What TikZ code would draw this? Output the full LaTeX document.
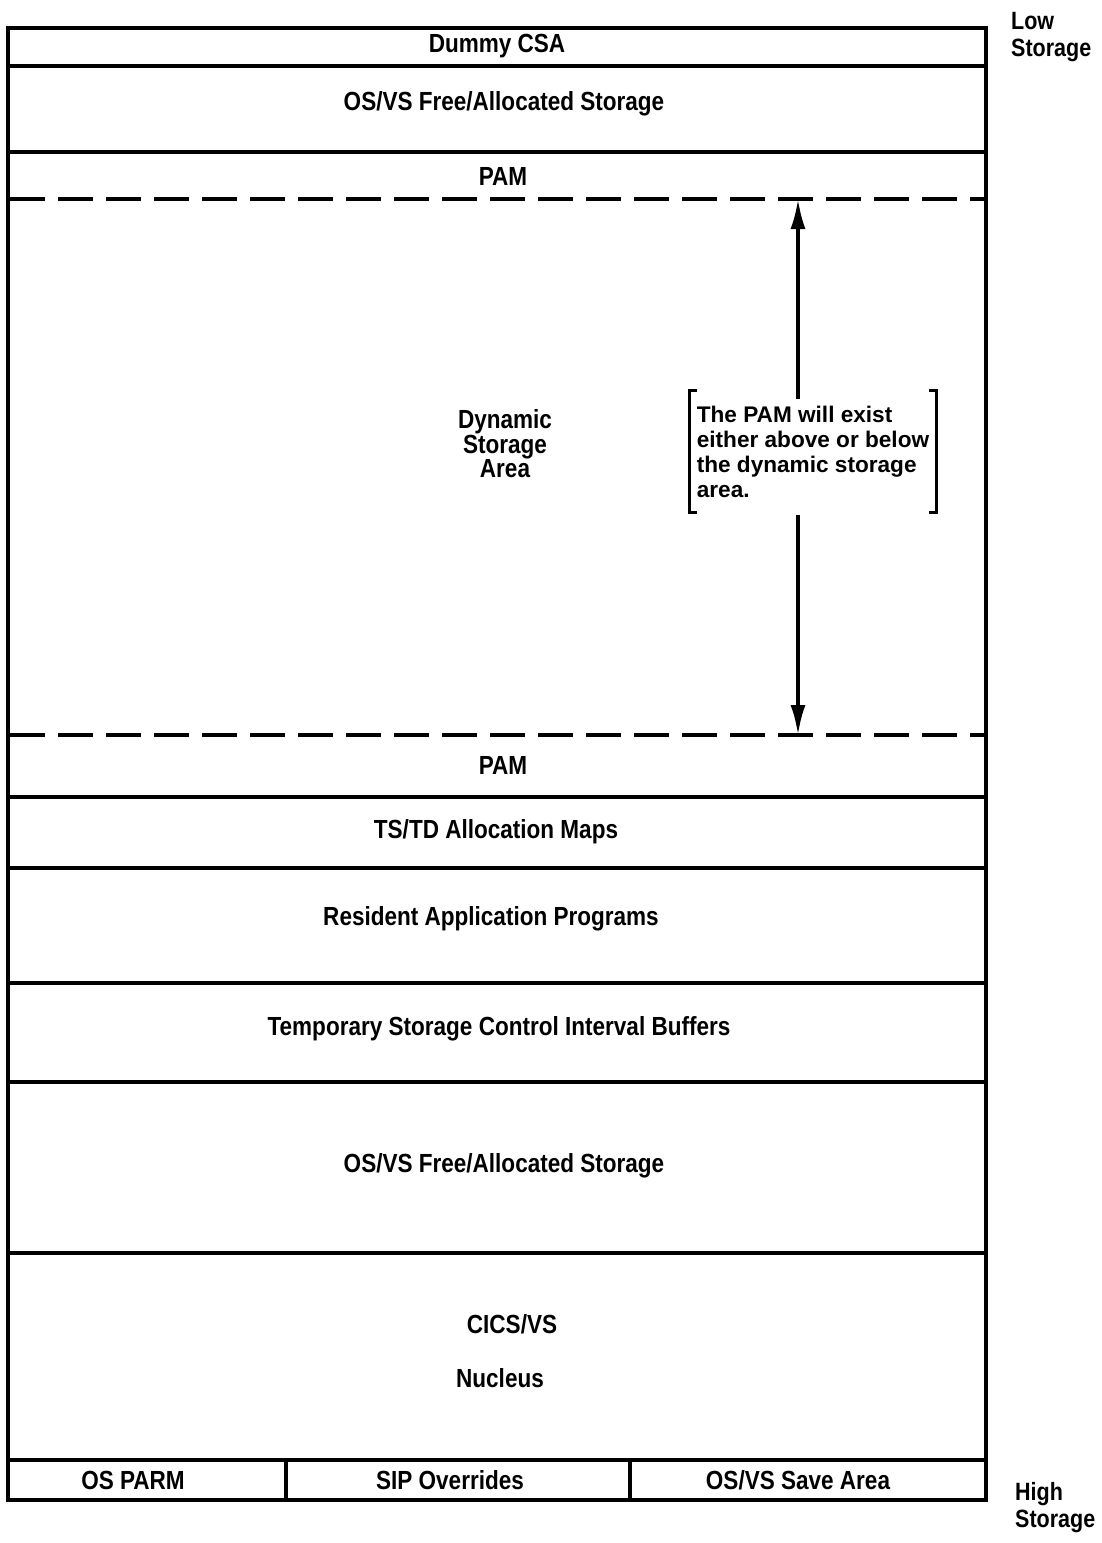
\documentclass[tikz,border=0pt]{standalone}
\usepackage{fontspec}
\setmainfont{Liberation Sans}[FakeStretch=0.86]
\newfontfamily\notefont{Liberation Sans}
\usetikzlibrary{arrows.meta}
\begin{document}
\begin{tikzpicture}[x=1pt,y=-1pt,
  lbl/.style={font=\bfseries\fontsize{26.2}{24.5}\selectfont, inner sep=0pt},
  sidelbl/.style={font=\bfseries\fontsize{25}{27}\selectfont, inner sep=0pt, align=left, anchor=west},
  rule/.style={line width=3.2pt},
  dashrule/.style={line width=3.4pt, dash pattern=on 35pt off 13pt},
  notebox/.style={minimum width=247pt, minimum height=121pt, inner sep=0pt,
     align=left, font=\notefont\bfseries\fontsize{22.6}{25}\selectfont},
  bracket/.style={line width=3pt},
  arr/.style={line width=3.4pt, -{Latex[length=30pt,width=15pt]}}
]
\useasboundingbox (0,0) rectangle (1102,1543);
% outer frame and separators
\draw[rule] (8,28) rectangle (986,1500);
\draw[rule] (8,66) -- (986,66);
\draw[rule] (8,152) -- (986,152);
\draw[dashrule] (10,199) -- (986,199);
\draw[dashrule] (10,735) -- (986,735);
\draw[rule] (8,797) -- (986,797);
\draw[rule] (8,868) -- (986,868);
\draw[rule] (8,983) -- (986,983);
\draw[rule] (8,1082) -- (986,1082);
\draw[rule] (8,1253) -- (986,1253);
\draw[rule] (8,1460) -- (986,1460);
\draw[rule] (286,1460) -- (286,1500);
\draw[rule] (630,1460) -- (630,1500);
% labels
\node[lbl] (dummy) at (497,46) {Dummy CSA};
\node[lbl] (osvs1) at (504,104) {OS/VS Free/Allocated Storage};
\node[lbl] (pam1) at (503,176) {PAM};
\node[lbl, align=center] (dyn) at (505,444) {Dynamic\\Storage\\Area};
\node[lbl] (pam2) at (503,765) {PAM};
\node[lbl] (tstd) at (496,832) {TS/TD Allocation Maps};
\node[lbl] (resident) at (491,919) {Resident Application Programs};
\node[lbl] (temp) at (499,1029) {Temporary Storage Control Interval Buffers};
\node[lbl] (osvs2) at (504,1166) {OS/VS Free/Allocated Storage};
\node[lbl] (cics) at (512,1324) {CICS/VS};
\node[lbl] (nucleus) at (500,1378) {Nucleus};
\node[lbl] (osparm) at (133,1480) {OS PARM};
\node[lbl] (sip) at (450,1480) {SIP Overrides};
\node[lbl] (save) at (798,1480) {OS/VS Save Area};
\node[sidelbl] (low) at (1011,37) {Low\\Storage};
\node[sidelbl] (high) at (1015,1508) {High\\Storage};
% note with brackets
\node[notebox] (note) at (813,451.5) {The PAM will exist\\either above or below\\the dynamic storage\\area.};
\draw[bracket] ([xshift=8pt]note.north west) -- (note.north west) -- (note.south west) -- ([xshift=8pt]note.south west);
\draw[bracket] ([xshift=-8pt]note.north east) -- (note.north east) -- (note.south east) -- ([xshift=-8pt]note.south east);
% arrows
\coordinate (topdash) at (798,199);
\coordinate (botdash) at (798,735);
\draw[arr] ([yshift=-8pt]note.north -| topdash) -- (topdash);
\draw[arr] ([yshift=-3pt]note.south -| botdash) -- (botdash);
\end{tikzpicture}
\end{document}
